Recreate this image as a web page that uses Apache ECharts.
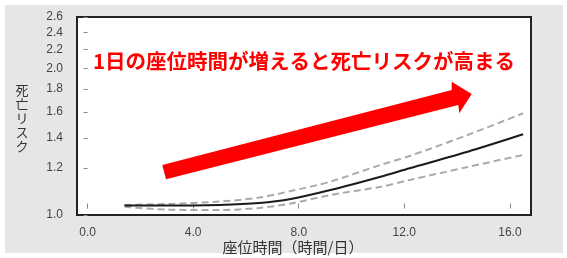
<!DOCTYPE html>
<html>
<head>
<meta charset="utf-8">
<script src="https://cdn.jsdelivr.net/npm/echarts@6/dist/echarts.min.js"></script>
<style>
html,body{margin:0;padding:0;background:#fff;}
#chart{width:567px;height:258px;}
</style>
</head>
<body>
<div id="chart"></div>
<script>
// Data
const sittingHours = [1.4, 3, 5, 6.5, 7.7, 9.2, 11.1, 12.2, 14.4, 16.5];
const riskMain  = [1.040, 1.040, 1.043, 1.051, 1.068, 1.106, 1.163, 1.199, 1.304, 1.426];
const riskUpper = [1.043, 1.047, 1.057, 1.074, 1.102, 1.142, 1.219, 1.276, 1.421, 1.588];
const riskLower = [1.035, 1.023, 1.021, 1.030, 1.049, 1.085, 1.120, 1.149, 1.206, 1.283];
const yTickValues = [1.0, 1.2, 1.4, 1.6, 1.8, 2.0, 2.2, 2.4, 2.6];
const xTickValues = [0, 4, 8, 12, 16];
const titleText = '1日の座位時間が増えると死亡リスクが高まる';
const xAxisName = '座位時間（時間/日）';
const yAxisName = '死亡リスク';

// Y scale of the reference: logarithmic above 1.2, compressed segment 1.0–1.2
const LN12 = Math.log(1.2), K = 0.2407;
function toAxis(v) { return v >= 1.2 ? Math.log(v) : LN12 - (1.2 - v) / 0.2 * K; }
function fromAxis(t) { return t >= LN12 - 1e-9 ? Math.exp(t) : 1.2 - (LN12 - t) / K * 0.2; }

function pairs(ys) { return sittingHours.map((x, i) => [x, toAxis(ys[i])]); }

const chart = echarts.init(document.getElementById('chart'), null, {renderer: 'canvas'});
const labelFont = {fontFamily: 'Liberation Sans, Arial, sans-serif', fontSize: 12, color: '#444'};

chart.setOption({
  animation: false,
  backgroundColor: '#ffffff',
  grid: {
    left: 77, right: 36, top: 17, bottom: 43,
    show: true, backgroundColor: '#ffffff', borderColor: '#222', borderWidth: 2
  },
  xAxis: {
    type: 'value', min: -0.4, max: 16.8,
    axisLine: {show: false},
    axisTick: {show: true, length: 5, customValues: xTickValues, lineStyle: {color: '#888', width: 1}},
    axisLabel: Object.assign({customValues: xTickValues, margin: 12, formatter: v => Number(v).toFixed(1)}, labelFont),
    splitLine: {show: false}
  },
  yAxis: {
    type: 'value', min: toAxis(1.0), max: toAxis(2.6), offset: 5,
    axisLine: {show: false},
    axisTick: {show: true, length: 4, customValues: yTickValues.map(toAxis), lineStyle: {color: '#888', width: 1}},
    axisLabel: Object.assign({customValues: yTickValues.map(toAxis), margin: 9, formatter: v => fromAxis(v).toFixed(1)}, labelFont),
    splitLine: {show: false}
  },
  graphic: [
    {type: 'rect', z: -10, silent: true, shape: {x: 5, y: 5, width: 558, height: 248}, style: {fill: '#e6e6e6'}},
    {type: 'polygon', z: 10, shape: {points: [[162.3,165],[451.7,90],[451.7,81.7],[471.7,94],[459.3,113.3],[458.3,105],[166,179.3]]}, style: {fill: '#ff0000'}},
    {type: 'text', z: 10, left: 93, top: 51, style: {text: titleText, fill: '#ff0000', font: 'bold 20.5px "Noto Sans CJK JP", sans-serif'}},
    {type: 'text', z: 10, x: 293, y: 247, style: {text: xAxisName, fill: '#333', align: 'center', verticalAlign: 'middle', font: '15px "Noto Sans CJK JP", sans-serif'}},
    {type: 'text', z: 10, x: 22, y: 118, style: {text: yAxisName.split('').join('\n'), fill: '#333', align: 'center', verticalAlign: 'middle', lineHeight: 14, font: '13px "Noto Sans CJK JP", sans-serif'}}
  ],
  series: [
    {type: 'line', name: 'upper', data: pairs(riskUpper), smooth: 0.3, symbol: 'none', lineStyle: {color: '#aaaaaa', width: 2, type: [7, 4]}},
    {type: 'line', name: 'lower', data: pairs(riskLower), smooth: 0.3, symbol: 'none', lineStyle: {color: '#aaaaaa', width: 2, type: [7, 4]}},
    {type: 'line', name: 'main', data: pairs(riskMain), smooth: 0.3, symbol: 'none', lineStyle: {color: '#1a1a1a', width: 2}}
  ]
});
</script>
</body>
</html>
